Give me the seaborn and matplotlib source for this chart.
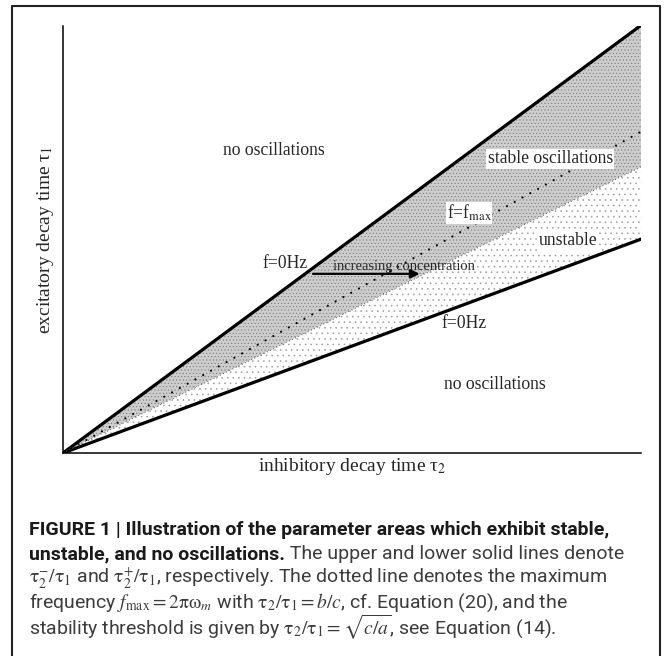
import numpy as np
import pandas as pd
import matplotlib
matplotlib.use("Agg")
import matplotlib.pyplot as plt
import seaborn as sns
from matplotlib.lines import Line2D

# ── Data ──────────────────────────────────────────────────────────────────────
# tau2 runs along the x axis, the boundaries are straight lines through zero
tau2 = [0.0, 1.0]
tau1_upper = [0.0, 0.74]        # tau2^- / tau1, f = 0 Hz
tau1_fmax = [0.0, 0.556]        # f = f_max
tau1_threshold = [0.0, 0.495]   # stability threshold
tau1_lower = [0.0, 0.37]        # tau2^+ / tau1, f = 0 Hz

region_labels = ["no oscillations", "stable oscillations", "unstable", "no oscillations"]
region_x = [0.364, 0.843, 0.873, 0.748]
region_y = [0.5225, 0.509, 0.367, 0.118]

caption_lines = [
    "FIGURE 1 | Illustration of the parameter areas which exhibit stable,",
    "unstable, and no oscillations.",
    r"$\mathrm{\tau}_2^{-}/\mathrm{\tau}_1$ and $\mathrm{\tau}_2^{+}/\mathrm{\tau}_1$, respectively. The dotted line denotes the maximum",
    r"frequency $f_{\mathrm{max}} = 2\mathrm{\pi\omega}_m$ with $\mathrm{\tau}_2/\mathrm{\tau}_1 = b/c$, cf. Equation (20), and the",
    r"stability threshold is given by $\mathrm{\tau}_2/\mathrm{\tau}_1 = \sqrt{c/a}$, see Equation (14).",
]
caption_tail = " The upper and lower solid lines denote"

# ── Style ─────────────────────────────────────────────────────────────────────
sns.set_theme(style="white")
plt.rcParams["font.family"] = ["Liberation Serif", "DejaVu Serif"]
plt.rcParams["mathtext.fontset"] = "stix"
plt.rcParams["hatch.linewidth"] = 0.4

W, H = 672, 656
fig = plt.figure(figsize=(W / 100, H / 100), dpi=100)
ax = fig.add_axes([63 / W, 1 - 453 / H, 578 / W, 427 / H])

# shaded areas
ax.fill_between(tau2, tau1_threshold, tau1_upper, facecolor="#cdcdcd",
                edgecolor="#7a7a7a", hatch=".....", linewidth=0)
ax.fill_between(tau2, tau1_lower, tau1_threshold, facecolor="white",
                edgecolor="#9a9a9a", hatch="...", linewidth=0)

# boundaries
sns.lineplot(x=tau2, y=tau1_upper, ax=ax, color="black", lw=2.3)
sns.lineplot(x=tau2, y=tau1_lower, ax=ax, color="black", lw=2.3)
sns.lineplot(x=tau2, y=tau1_fmax, ax=ax, color="black", lw=1.6,
             linestyle=(0, (0.01, 4.0)), dash_capstyle="round")
sns.lineplot(x=tau2, y=tau1_threshold, ax=ax, color="#555555", lw=0.7,
             linestyle=(0, (1, 2.6)))

ax.set_xlim(0, 1.0)
ax.set_ylim(0, 427 / 578)
ax.set_xticks([])
ax.set_yticks([])
for side in ["top", "right"]:
    ax.spines[side].set_visible(False)
for side in ["left", "bottom"]:
    ax.spines[side].set_color("black")
    ax.spines[side].set_linewidth(1.1)

ax.set_xlabel("inhibitory decay time τ$_2$", fontsize=14, labelpad=2)
ax.set_ylabel("excitatory decay time τ$_1$", fontsize=14, labelpad=5)

# region labels
for lab, x, y in zip(region_labels, region_x, region_y):
    box = None
    if lab in ("stable oscillations", "unstable"):
        box = dict(facecolor="white", edgecolor="none", pad=1.0)
    ax.text(x, y, lab, fontsize=12.7, ha="center", va="center", bbox=box)

ax.text(0.385, 0.3287, "f=0Hz", fontsize=12.7, ha="center", va="center")
ax.text(0.694, 0.2232, "f=0Hz", fontsize=12.7, ha="center", va="center")
ax.text(0.664, 0.415, r"f=f$_{\mathrm{max}}$", fontsize=12.7, ha="left", va="center",
        bbox=dict(facecolor="white", edgecolor="none", pad=0.5))

ax.text(0.59, 0.323, "increasing concentration", fontsize=10.5, ha="center", va="center")
ax.annotate("", xy=(0.617, 0.31), xytext=(0.4325, 0.31),
            arrowprops=dict(arrowstyle="-|>", lw=1.6, color="black", mutation_scale=13,
                            shrinkA=0, shrinkB=0))

# frame around figure
fig.add_artist(Line2D([12 / W, 12 / W, 660 / W, 660 / W], [0, 1 - 6 / H, 1 - 6 / H, 0],
                      transform=fig.transFigure, color="#222222", lw=1.5))

# caption
cap_font = ["Liberation Sans Narrow", "Roboto", "DejaVu Sans"]
cap_size = 14
cap_y = [530, 554, 578, 603, 627]
cap_x = 29 / W
for i, line in enumerate(caption_lines):
    bold = i < 2
    t = fig.text(cap_x, 1 - cap_y[i] / H, line, family=cap_font, fontsize=cap_size,
                 fontweight="bold" if bold else "normal",
                 color="#1a1a1a" if bold else "#3c3c3c", va="center", ha="left")
    if i == 1:
        fig.add_artist(plt.Annotation(caption_tail, xy=(1, 0), xycoords=t, va="bottom",
                                      ha="left", family=cap_font, fontsize=cap_size,
                                      color="#3c3c3c"))

fig.savefig("out.png", dpi=100)
